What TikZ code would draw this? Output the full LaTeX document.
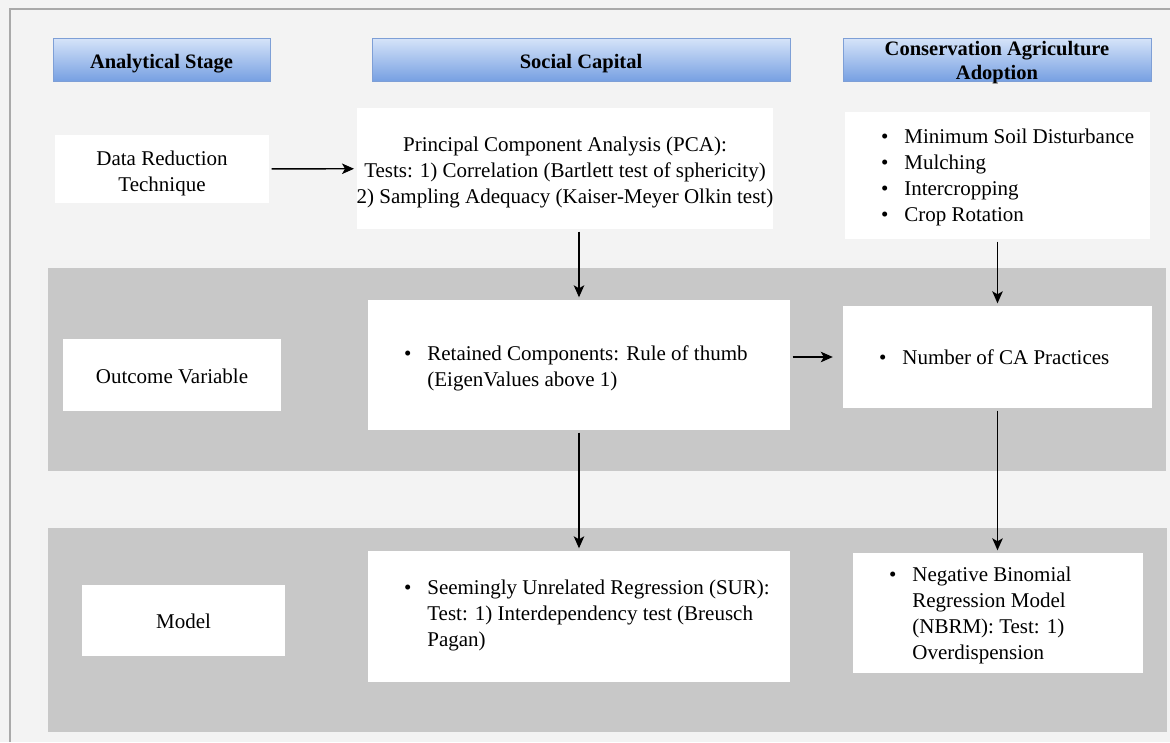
\documentclass[tikz,border=0pt]{standalone}
\usepackage{fontspec}
\setmainfont{Liberation Serif}
\usepackage{xcolor}
\usepackage{tikz}
\usetikzlibrary{arrows.meta,positioning,calc}

\definecolor{pagebg}{HTML}{F3F3F3}
\definecolor{frameline}{HTML}{A9A9A9}
\definecolor{bandgrey}{HTML}{C8C8C8}
\definecolor{headtop}{HTML}{D6E4F9}
\definecolor{headbot}{HTML}{77A0E2}
\definecolor{headline}{HTML}{7E9FD6}

\newcommand{\headfont}{\fontsize{20.5}{24.5}\selectfont\bfseries}
\newcommand{\bodyfont}{\fontsize{21}{26}\selectfont}
% centred lines, lowered a little inside the box
\newcommand{\ctext}[2][3pt]{\raisebox{-#1}[\height][\depth]{\begin{tabular}{@{}c@{}}#2\end{tabular}}}
% bullet list of fixed width
\newcommand{\blist}[3][3pt]{\raisebox{-#1}[\height][\depth]{\makebox[#2][l]{\begin{tabular}{@{}c@{\hspace{16pt}}l@{}}#3\end{tabular}}}}

\begin{document}
\begin{tikzpicture}[x=1pt,y=-1pt,
    >={Stealth[length=12pt,width=10.5pt,inset=3pt]},
    stagehead/.style={draw=headline, line width=0.8pt, top color=headtop, bottom color=headbot,
        font=\headfont, inner sep=0pt, minimum height=43pt},
    box/.style={fill=white, font=\bodyfont, inner sep=0pt},
    listbox/.style={fill=white, font=\bodyfont, inner xsep=36pt, inner ysep=0pt},
    link/.style={->, line width=1.4pt, shorten <=2.5pt, shorten >=2.5pt}]

    % page and frame
    \fill[pagebg] (0,0) rectangle (1170,742);
    \useasboundingbox (0,0) rectangle (1170,742);
    \draw[frameline, line width=1.2pt] (1170,9) -- (10,9) -- (10,742);

    % grey bands
    \fill[bandgrey] (48,268) rectangle (1166,471);
    \fill[bandgrey] (48,528) rectangle (1167,732);

    % column heads
    \node[stagehead, minimum width=217pt] (stage) at (161.5,59.5) {\ctext[4pt]{Analytical Stage}};
    \node[stagehead, minimum width=418pt] (social) at (581,59.5) {\ctext[4pt]{Social Capital}};
    \node[stagehead, minimum width=308pt, inner ysep=-3pt] (caa) at (997,59.5) {\ctext{Conservation Agriculture\\Adoption}};

    % row 1
    \node[box, minimum width=214pt, minimum height=68pt] (datared) at (162,169) {\ctext[4pt]{Data Reduction\\Technique}};
    \node[box, minimum width=416pt, minimum height=121pt] (pca) at (565,168.5)
        {\ctext[4pt]{Principal Component Analysis (PCA):\\Tests: 1) Correlation (Bartlett test of sphericity)\\2) Sampling Adequacy (Kaiser-Meyer Olkin test)}};
    \node[listbox, minimum height=127pt] (calist) at (997.5,175.5)
        {\blist[1.6pt]{233pt}{\textbullet & Minimum Soil Disturbance\\ \textbullet & Mulching\\ \textbullet & Intercropping\\ \textbullet & Crop Rotation}};

    % row 2
    \node[box, minimum width=218pt, minimum height=72pt] (outcome) at (172,375) {\ctext{Outcome Variable}};
    \node[listbox, minimum height=130pt] (retained) at (579,365)
        {\blist[3.5pt]{350pt}{\textbullet & Retained Components: Rule of thumb\\ & (EigenValues above 1)}};
    \node[listbox, minimum height=102pt] (numca) at (997.5,357)
        {\blist[2pt]{237pt}{\textbullet & Number of CA Practices}};

    % row 3
    \node[box, minimum width=203pt, minimum height=71pt] (model) at (183.5,620.5) {\ctext{Model}};
    \node[listbox, minimum height=131pt] (sur) at (579,616.5)
        {\blist[-1pt]{350pt}{\textbullet & Seemingly Unrelated Regression (SUR):\\ & Test: 1) Interdependency test (Breusch\\ & Pagan)}};
    \node[listbox, minimum height=120pt] (nbrm) at (998,613)
        {\blist[2.5pt]{218pt}{\textbullet & Negative Binomial\\ & Regression Model\\ & (NBRM): Test: 1)\\ & Overdispension}};

    % connectors
    \draw[link] (datared) -- (pca);
    \draw[link] (retained.north |- pca.south) -- (retained.north);
    \draw[link] (calist.south) -- (numca.north);
    \draw[link, shorten >=10pt] (retained.east |- numca.west) -- (numca.west);
    \draw[link] (retained.south) -- (sur.north);
    \draw[link] (numca.south) -- (numca.south |- nbrm.north);

\end{tikzpicture}
\end{document}
